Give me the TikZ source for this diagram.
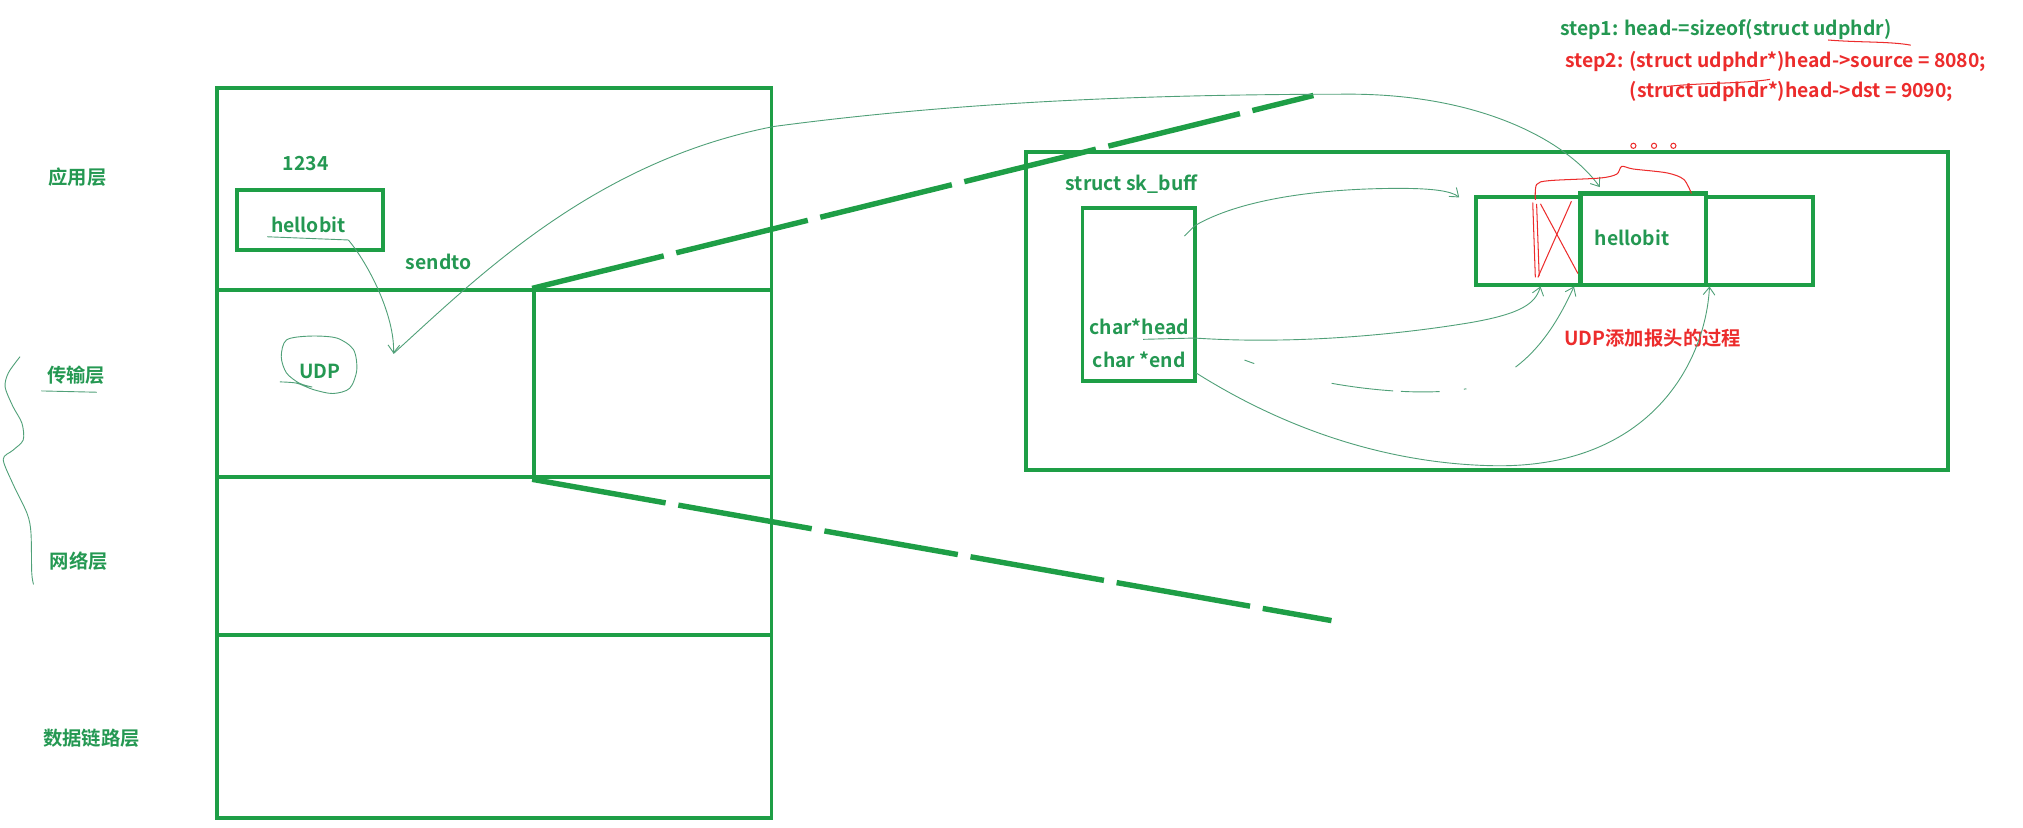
\documentclass[tikz,border=0pt]{standalone}
\usepackage{fontspec}
\setmainfont{Noto Sans CJK SC}[BoldFont={Noto Sans CJK SC Bold}]
\usepackage{tikz}
\usetikzlibrary{arrows.meta}
\definecolor{boxgreen}{RGB}{30,158,70}
\definecolor{txtgreen}{RGB}{36,152,82}
\definecolor{penline}{RGB}{80,160,120}
\definecolor{penred}{RGB}{236,44,44}
\tikzset{
  layer/.style   ={draw=boxgreen, line width=3pt, minimum width=430pt,
                   inner sep=0pt},
  cell/.style    ={draw=boxgreen, line width=3.2pt, inner sep=0pt,
                   minimum height=68pt},
  lbl/.style     ={text=txtgreen, inner sep=1pt,
                   font=\bfseries\fontsize{15}{18}\selectfont},
  redlbl/.style  ={lbl, text=penred},
  pen/.style     ={draw=penline, line width=0.7pt},
  penarr/.style  ={pen, -{Straight Barb[length=6pt,width=9pt]}},
  redpen/.style  ={draw=penred, line width=0.8pt},
  zoomline/.style={draw=boxgreen, line width=4.2pt,
                   dash pattern=on 105pt off 10pt},
}
\begin{document}
\begin{tikzpicture}[x=1pt, y=-1pt]
  \useasboundingbox (0,0) rectangle (1568,641);

  % protocol stack
  \node[layer, minimum height=157pt] (applayer) at (383,146.5) {};
  \node[layer, minimum width=246pt, minimum height=145pt] (udpcell) at (291,297.5) {};
  \node[layer, minimum width=184pt, minimum height=145pt] (tailcell) at (506,297.5) {};
  \node[layer, minimum height=122pt] (netlayer) at (383,431) {};
  \node[layer, minimum height=142pt] (linklayer) at (383,563) {};

  \node[lbl] (lapp) at (60,137) {应用层};
  \node[lbl] (ltrans) at (59,291) {传输层};
  \node[lbl] (lnet) at (61,435) {网络层};
  \node[lbl] (llink) at (71,572) {数据链路层};
  \draw[pen] (32,303) -- (75,304);
  \draw[pen] plot[smooth] coordinates {(15.5,276.5) (6.5,289) (4,300) (10,315)
    (17,328) (18,341) (10,349) (2.5,356) (10,375) (21,398) (24,413) (24.6,444) (26,453)};

  \node[lbl] (port) at (237,127) {1234};
  \node[draw=boxgreen, line width=3pt, minimum width=113pt, minimum height=47pt] (appbox) at (240.5,170.5) {};
  \node[lbl] (appdata) at (239,174) {hellobit};
  \node[lbl] (sendto) at (340,203) {sendto};
  \node[lbl] (udp) at (248,288) {UDP};
  \draw[pen] plot[smooth] coordinates {(217,296) (230,297) (243,302) (258,305)
    (271,301) (276.5,287) (274,271) (261,262) (240,260.5) (222,263.5) (218,276.5)
    (222,289) (232,297) (242,300)};

  % sk_buff
  \node[layer, minimum width=715pt, minimum height=246pt] (skb) at (1152.5,241) {};
  \node[lbl] (skname) at (877,143) {struct sk\_buff};
  \node[draw=boxgreen, line width=3pt, minimum width=87pt, minimum height=134pt] (skrect) at (882.5,228) {};
  \node[lbl] (headptr) at (883,253) {char*head};
  \node[lbl] (endptr) at (883,279) {char *end};

  \node[cell, minimum width=81pt] (hdrcell) at (1184.5,187) {};
  \node[cell, minimum width=97pt, minimum height=71pt] (datacell) at (1273.5,185.5) {};
  \node[cell, minimum width=83pt] (freecell) at (1363.5,187) {};
  \node[lbl] (bufdata) at (1265,184) {hellobit};
  \node[redlbl] (caption) at (1281,262) {UDP添加报头的过程};

  \node[lbl, anchor=west] (step1) at (1208,23) {step1: head-=sizeof(struct udphdr)};
  \node[redlbl, anchor=west] (step2) at (1212,48) {step2: (struct udphdr*)head->source = 8080;};
  \node[redlbl, anchor=west] (step3) at (1262,71) {(struct udphdr*)head->dst = 9090;};
  \foreach \x in {1266,1282,1297}
    \draw[redpen] (\x,113) circle (2pt);
  \draw[redpen] (1417,31) .. controls (1440,33) and (1465,32) .. (1481,35);
  \draw[redpen] (1292,67) .. controls (1320,64) and (1350,65) .. (1372,61.5);

  % zoom lines
  \coordinate (zoomtop) at (1018,74);
  \coordinate (zoombot) at (1032,481);
  \draw[zoomline] (tailcell.north west) -- (zoomtop);
  \draw[zoomline] (tailcell.south west) -- (zoombot);

  % hand-drawn pointers
  \coordinate (ulA) at (207,183.5);
  \coordinate (ulB) at (270,186);
  \coordinate (drop) at (305,274);
  \coordinate (xgap) at (1240,145);
  \draw[pen] (ulA) -- (ulB);
  \draw[penarr] (ulB) .. controls (286,205) and (306,245) .. (drop);
  \draw[penarr] (drop) .. controls (370,215) and (460,125) .. (600,98)
    .. controls (750,78) and (900,73) .. (1050,73)
    .. controls (1150,74) and (1215,110) .. (xgap);

  \coordinate (skout) at (918,183);
  \coordinate (bufin) at (1131,153);
  \draw[penarr] (skout) -- (926,175) .. controls (960,155) and (1020,146) .. (1085,146)
    .. controls (1110,146) and (1125,148) .. (bufin);

  \coordinate (headul) at (886,263);
  \coordinate (headtip) at (1194,222);
  \draw[penarr] (headul) -- (926,262) .. controls (1000,267) and (1080,260) .. (1140,250)
    .. controls (1180,243) and (1190,235) .. (headtip);

  \coordinate (fadeout) at (940,268);
  \coordinate (fadetip) at (1220,222);
  \draw[penarr, dash pattern=on 0pt off 27pt on 8pt off 62pt on 48pt off 6pt on 30pt off 19pt on 2pt off 42pt on 200pt]
    (fadeout) .. controls (1000,300) and (1110,312) .. (1150,298)
    .. controls (1185,285) and (1205,255) .. (fadetip);

  \coordinate (endout) at (927,289);
  \coordinate (endtip) at (1325,222);
  \draw[penarr] (endout) .. controls (1000,335) and (1080,360) .. (1160,361)
    .. controls (1280,362) and (1322,280) .. (endtip);

  % removed header mark
  \draw[redpen] (1194,158) -- (1223,212);
  \draw[redpen] (1218,156) -- (1192,215);
  \draw[redpen] (1188,157) -- (1190,215);
  \draw[redpen] (1191,158) -- (1193,214);
  \draw[redpen] plot[smooth] coordinates {(1190,155) (1191,143) (1201,140) (1240,138)
    (1253,135) (1257,129) (1266,131) (1292,134) (1305,139) (1311,150)};
\end{tikzpicture}
\end{document}
